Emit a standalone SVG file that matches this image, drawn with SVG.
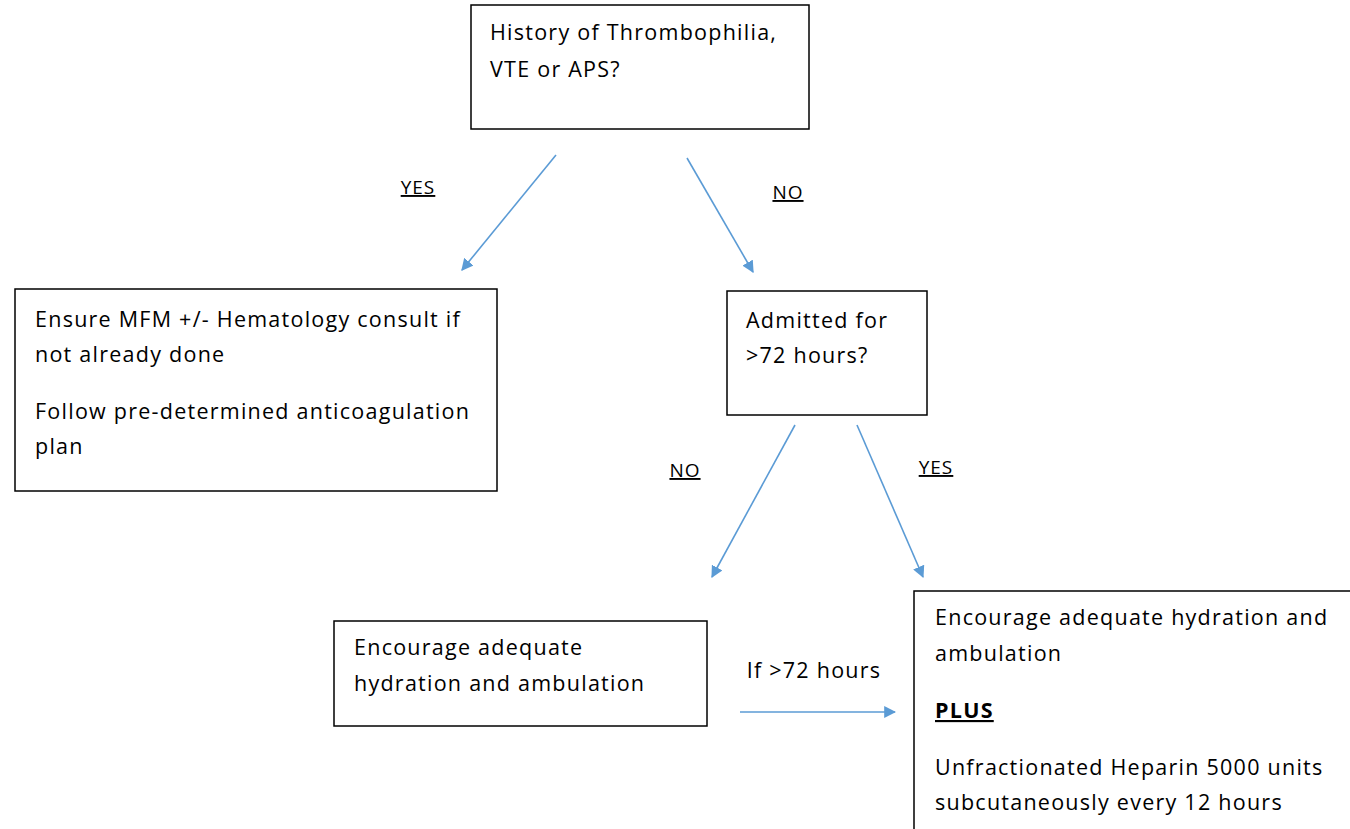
<svg xmlns="http://www.w3.org/2000/svg" width="1350" height="829" viewBox="0 0 1350 829">
<style>
.box{fill:#fff;stroke:#000;stroke-width:1.5}
.t{font-family:"Open Sans","Liberation Sans",sans-serif;font-size:21.5px;letter-spacing:1.25px;fill:#000}
.lbl{font-family:"Open Sans","Liberation Sans",sans-serif;font-size:19px;letter-spacing:1px;fill:#000;text-decoration:underline}
.conn{stroke:#5b9bd5;stroke-width:1.6;fill:none;marker-end:url(#ah)}
</style>
<defs>
<marker id="ah" viewBox="0 0 10 10" refX="9" refY="5" markerWidth="12" markerHeight="12" markerUnits="userSpaceOnUse" orient="auto">
<path d="M0,0 L10,5 L0,10 z" fill="#5b9bd5"/>
</marker>
</defs>
<rect width="1350" height="829" fill="#fff"/>
<g id="connectors">
<line class="conn" x1="556" y1="155" x2="462" y2="270"/>
<line class="conn" x1="687" y1="158" x2="753" y2="272"/>
<line class="conn" x1="795" y1="425" x2="712" y2="577"/>
<line class="conn" x1="857" y1="425" x2="923" y2="577"/>
<line class="conn" x1="740" y1="712" x2="895" y2="712"/>
<text class="lbl" x="418" y="194" text-anchor="middle">YES</text>
<text class="lbl" x="788" y="199" text-anchor="middle">NO</text>
<text class="lbl" x="685" y="477" text-anchor="middle">NO</text>
<text class="lbl" x="936" y="474" text-anchor="middle">YES</text>
<text class="t" x="814" y="678" text-anchor="middle">If &gt;72 hours</text>
</g>
<g id="n1">
<rect class="box" x="471" y="5" width="338" height="124"/>
<text class="t" x="490" y="40">History of Thrombophilia,</text>
<text class="t" x="490" y="77">VTE or APS?</text>
</g>
<g id="n2">
<rect class="box" x="15" y="289" width="482" height="202"/>
<text class="t" x="35" y="327">Ensure MFM +/- Hematology consult if</text>
<text class="t" x="35" y="362">not already done</text>
<text class="t" x="35" y="419">Follow pre-determined anticoagulation</text>
<text class="t" x="35" y="454">plan</text>
</g>
<g id="n3">
<rect class="box" x="727" y="291" width="200" height="124"/>
<text class="t" x="746" y="328">Admitted for</text>
<text class="t" x="746" y="363">&gt;72 hours?</text>
</g>
<g id="n4">
<rect class="box" x="334" y="621" width="373" height="105"/>
<text class="t" x="354" y="655">Encourage adequate</text>
<text class="t" x="354" y="691">hydration and ambulation</text>
</g>
<g id="n5">
<rect class="box" x="914" y="591" width="440" height="240"/>
<text class="t" x="935" y="625">Encourage adequate hydration and</text>
<text class="t" x="935" y="661">ambulation</text>
<text class="t" x="935" y="718" font-weight="bold" text-decoration="underline">PLUS</text>
<text class="t" x="935" y="775">Unfractionated Heparin 5000 units</text>
<text class="t" x="935" y="810">subcutaneously every 12 hours</text>
</g>
</svg>
